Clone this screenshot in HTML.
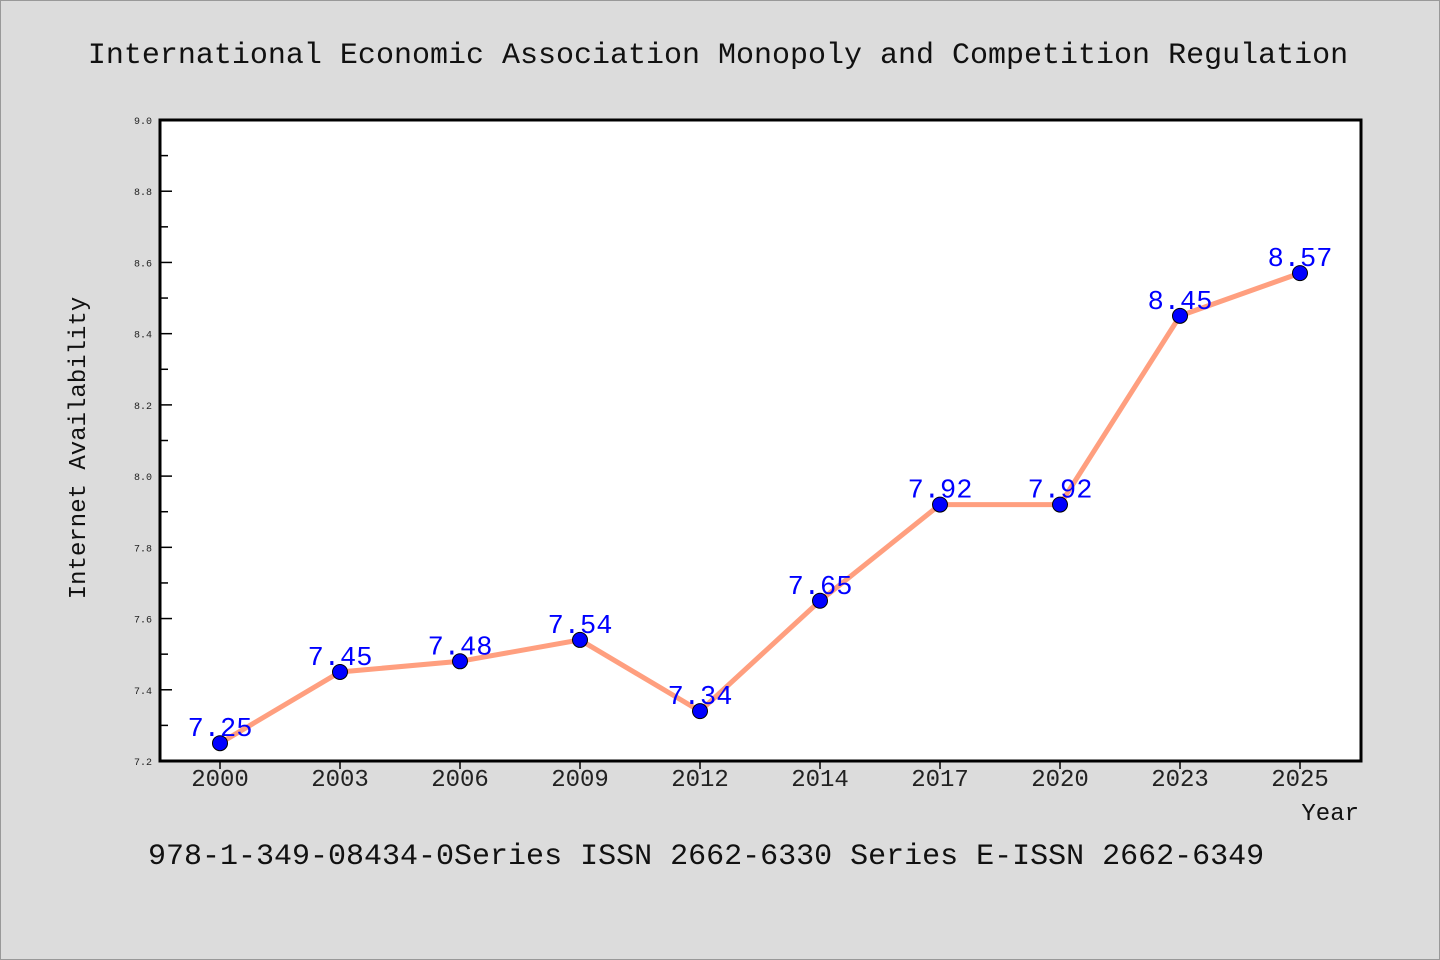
<!DOCTYPE html>
<html><head><meta charset="utf-8"><style>
body{margin:0;background:#dcdcdc;}
svg{display:block;font-family:"WenQuanYi Zen Hei Mono","WenQuanYi Zen Hei","Liberation Mono",monospace;}
</style></head><body>
<svg id="chart" width="1440" height="960" xmlns="http://www.w3.org/2000/svg">
<rect x="0.5" y="0.5" width="1439" height="959" fill="#dcdcdc" stroke="#999"/>
<text x="718" y="63" font-size="30" text-anchor="middle" fill="#111">International Economic Association Monopoly and Competition Regulation</text>
<rect x="160" y="120" width="1201" height="641" fill="#fff"/>
<g id="yaxis"></g>
<g id="xaxis"></g>
<g id="series"></g>
<rect x="160" y="120" width="1201" height="641" fill="none" stroke="#000" stroke-width="3"/>
<text transform="translate(85,448) rotate(-90)" font-size="24" text-anchor="middle" fill="#111">Internet Availability</text>
<text x="1359" y="820" font-size="24" text-anchor="end" fill="#111">Year</text>
<text x="148" y="864" font-size="30" fill="#111">978-1-349-08434-0Series ISSN 2662-6330 Series E-ISSN 2662-6349</text>
</svg>
<script>
const categories=["2000","2003","2006","2009","2012","2014","2017","2020","2023","2025"];
const values=[7.25,7.45,7.48,7.54,7.34,7.65,7.92,7.92,8.45,8.57];
const yTicks=[7.2,7.4,7.6,7.8,8.0,8.2,8.4,8.6,8.8,9.0];
const NS="http://www.w3.org/2000/svg";
const L=160,R=1360,T=120,B=761,ymin=7.2,ymax=9.0;
const x=i=>L+(R-L)/categories.length*(i+0.5);
const y=v=>B-(v-ymin)/(ymax-ymin)*(B-T);
function mk(tag,attrs,parent){const e=document.createElementNS(NS,tag);for(const k in attrs)e.setAttribute(k,attrs[k]);parent.appendChild(e);return e;}
const ya=document.getElementById('yaxis'),xa=document.getElementById('xaxis'),s=document.getElementById('series');
yTicks.forEach((v,i)=>{
  const t=mk('line',{x1:L,x2:L+12,y1:y(v),y2:y(v),stroke:'#000','stroke-width':1.5},ya);
  
  
  const lb=mk('text',{x:L-8,y:y(v)+4,'font-size':10,'text-anchor':'end',fill:'#222'},ya);
  lb.textContent=v.toFixed(1);
  
  
  if(i<yTicks.length-1){
    const mv=v+(yTicks[i+1]-v)/2;
    const m=mk('line',{x1:L,x2:L+8,y1:y(mv),y2:y(mv),stroke:'#000','stroke-width':1.5},ya);
    
    
  }
});
categories.forEach((c,i)=>{
  const t=mk('line',{x1:x(i),x2:x(i),y1:B,y2:B+8,stroke:'#000','stroke-width':1.5},xa);
  
  
  const lb=mk('text',{x:x(i),y:B+25,'font-size':24,'text-anchor':'middle',fill:'#222'},xa);
  lb.textContent=c;
  
  
});
const line=mk('polyline',{points:values.map((v,i)=>x(i)+','+y(v)).join(' '),fill:'none',stroke:'#ff9f7f','stroke-width':5},s);


values.forEach((v,i)=>{
  const p=mk('circle',{cx:x(i),cy:y(v),r:7.5,fill:'#0000ff',stroke:'#000','stroke-width':1},s);
  
  
});
values.forEach((v,i)=>{
  const lb=mk('text',{x:x(i),y:y(v)-7,'font-size':27,'text-anchor':'middle',fill:'#0000ff'},s);
  lb.textContent=v.toFixed(2);
  
  
});
</script>
</body></html>
